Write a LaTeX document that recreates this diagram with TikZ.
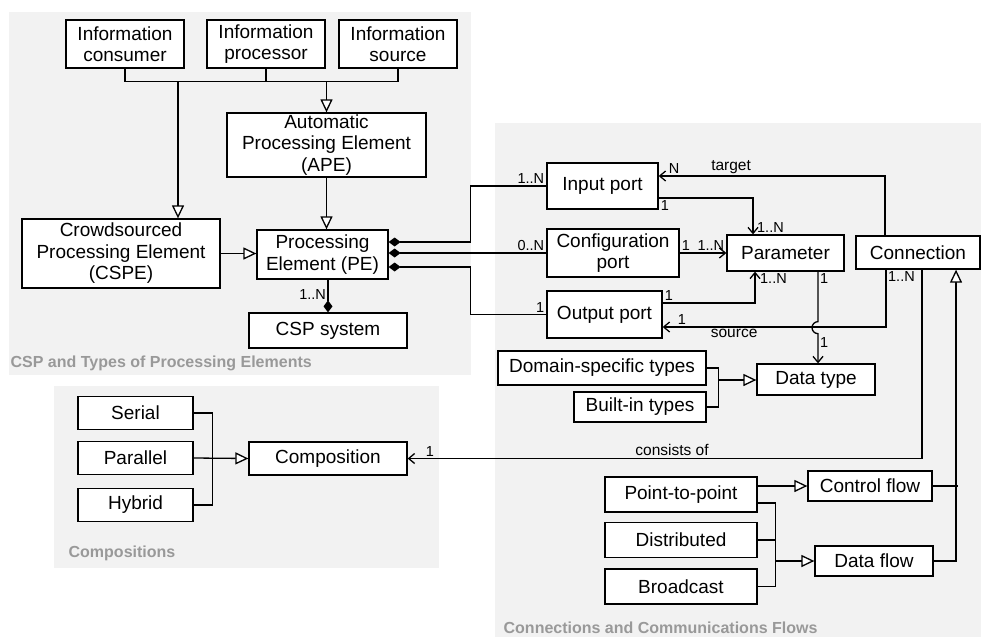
\documentclass[tikz,border=0pt]{standalone}
\usepackage{fontspec}
\setmainfont{Liberation Sans}
\usetikzlibrary{arrows.meta}
\tikzset{
  panel/.style={fill=black!5},
  title/.style={anchor=west, inner sep=0pt, text=black!40, font=\bfseries\fontsize{16}{18}\selectfont},
  box/.style={draw, fill=white, align=center, inner sep=0pt, font=\fontsize{19}{21.5}\selectfont},
  gen/.style={-{Triangle[fill=white, length=13pt, width=12pt]}},
  comp/.style={-{Diamond[length=12pt, width=9pt]}},
  assoc/.style={-{Straight Barb[length=6pt, width=10pt]}},
  mult/.style={inner sep=1.5pt, font=\fontsize{14.5}{16}\selectfont},
  lbl/.style={inner sep=2pt, font=\fontsize{15.5}{17}\selectfont}
}
\begin{document}
\begin{tikzpicture}[x=1pt, y=-1pt, line width=1.3pt]
\useasboundingbox (0,0) rectangle (981,637);
\fill[panel] (9,12) rectangle (471,375);
\fill[panel] (54,386) rectangle (439,568);
\fill[panel] (495,123) rectangle (981,637);
\node[title] (t1) at (10,363) {CSP and Types of Processing Elements};
\node[title] (t2) at (68,553) {Compositions};
\node[title] (t3) at (503,628) {Connections and Communications Flows};

% processing elements
\foreach \n/\x/\t in {cons/125/consumer,proc/266/processor,src/398/source}
  \node[box, minimum width=118, minimum height=48] (\n) at (\x,44) {Information\\\t};
\node[box, minimum width=199, minimum height=64] (ape) at (326.5,145) {Automatic\\Processing Element\\(APE)};
\node[box, minimum width=198, minimum height=69] (cspe) at (121,253.5) {Crowdsourced\\Processing Element\\(CSPE)};
\node[box, minimum width=131, minimum height=49] (pe) at (322.5,254.5) {Processing\\Element (PE)};
\node[box, minimum width=158, minimum height=35] (csp) at (328,330.5) {CSP system};

% ports and types
\node[box, minimum width=111, minimum height=46] (inport) at (602.5,186) {Input port};
\node[box, minimum width=132, minimum height=48] (cfgport) at (613,253) {Configuration\\port};
\node[box, minimum width=115, minimum height=47] (outport) at (604.5,314.5) {Output port};
\node[box, minimum width=117, minimum height=36] (param) at (785.5,253) {Parameter};
\node[box, minimum width=124, minimum height=33] (conn) at (918,252.5) {Connection};
\node[box, minimum width=208, minimum height=34] (domain) at (602,368) {Domain-specific types};
\node[box, minimum width=132, minimum height=30] (builtin) at (640,407) {Built-in types};
\node[box, minimum width=118, minimum height=31] (dtype) at (816,379.5) {Data type};

\foreach \n/\y/\t in {serial/413/Serial,parallel/458/Parallel,hybrid/505/Hybrid}
  \node[box, minimum width=115, minimum height=33] (\n) at (135.5,\y) {\t};
\node[box, minimum width=158, minimum height=33] (compo) at (328,458.5) {Composition};

\foreach \n/\y/\t in {p2p/494.5/Point-to-point,distrib/540/Distributed,bcast/586.5/Broadcast}
  \node[box, minimum width=152, minimum height=35] (\n) at (681,\y) {\t};
\node[box, minimum width=124, minimum height=30] (ctrl) at (870,486) {Control flow};
\node[box, minimum width=118, minimum height=30] (dflow) at (874,561) {Data flow};

\coordinate (bus) at (326.5,81);
\coordinate (busc) at (178,81);
\draw (cons.south) -- ++(0,13) -| (src.south);
\draw (proc.south) -- ++(0,13);
\draw[gen] (bus) -- (ape.north);
\draw[gen] (busc) -- (busc |- cspe.north);
\draw[gen] (ape.south) -- (ape.south |- pe.north);
\draw[gen] (cspe.east) -- (cspe.east -| pe.west);
\draw[comp] (pe.south -| csp.north) -- (csp.north) node[mult, pos=0.45, left]{1..N};

\draw[comp] (inport.west) node[mult, above left]{1..N} -- ++(-76,0) |- ([yshift=12.5pt]pe.east);
\draw[comp] (cfgport.west) node[mult, above left]{0..N} -- ([yshift=1.5pt]pe.east);
\draw[comp] (outport.west) node[mult, above left]{1} -- ++(-76,0) |- ([yshift=-12.5pt]pe.east);

\draw[assoc] ([xshift=-33pt]conn.north) |- ([yshift=10pt]inport.east)
  node[mult, above right, xshift=8pt]{N} node[lbl, pos=0.84, above]{target};
\draw[assoc] ([yshift=-12pt]inport.east) node[mult, below right]{1} -| ([xshift=-32.5pt]param.north)
  node[mult, above right, xshift=2pt]{1..N};
\draw[assoc] (cfgport.east) node[mult, above right]{1} -- (param.west) node[mult, above left]{1..N};
\draw[assoc] ([yshift=11.5pt]outport.east) node[mult, above right]{1} -| ([xshift=-30.5pt]param.south)
  node[mult, below right, xshift=3pt]{1..N};
\draw[assoc] ([xshift=-32pt]conn.south) node[mult, below right]{1..N} |- ([yshift=-12.5pt]outport.east)
  node[mult, above right, xshift=13pt]{1} node[lbl, pos=0.84, below]{source};
\draw[assoc] ([xshift=32.5pt]param.south) node[mult, below right]{1} -- ++(0,50)
  arc[start angle=90, end angle=270, radius=6pt] -- ([xshift=2pt]dtype.north) node[mult, pos=0.3, right]{1};

\draw (domain.east) -- ++(12,0) |- (builtin.east);
\coordinate (tj) at (718,380);
\draw[gen] (tj) -- (tj -| dtype.west);

\draw (serial.east) -- ++(19,0) |- (hybrid.east);
\draw[gen] (parallel.east) -- (compo.west);
\draw[assoc] ([xshift=4pt]conn.south) |- (compo.east)
  node[mult, above right, xshift=16pt]{1} node[lbl, pos=0.743, above]{consists of};

\draw[gen] (ctrl.west -| p2p.east) -- (ctrl.west);
\draw ([yshift=-8.5pt]p2p.east) -- ++(18,0) |- (bcast.east);
\draw (distrib.east) -- ++(18,0);
\coordinate (fj) at (775,561);
\draw[gen] (fj) -- (dflow.west);
\draw (ctrl.east) -- ++(25,0);
\draw[gen] (dflow.east) -| ([xshift=38pt]conn.south);
\end{tikzpicture}
\end{document}
